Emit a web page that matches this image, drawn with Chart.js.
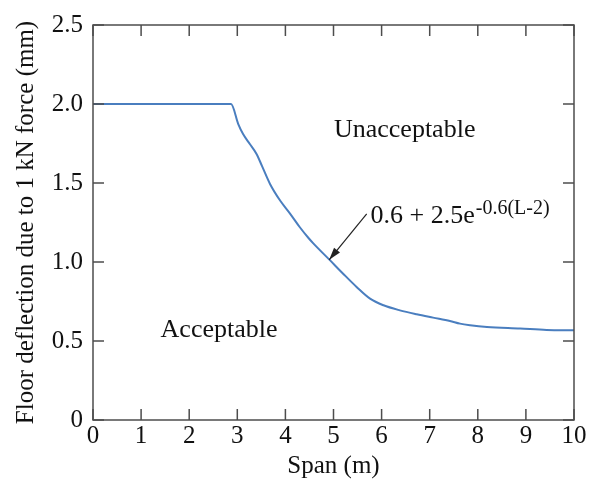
<!DOCTYPE html>
<html>
<head>
<meta charset="utf-8">
<script src="https://cdn.jsdelivr.net/npm/chart.js@4/dist/chart.umd.min.js"></script>
<style>
  html, body { margin: 0; padding: 0; background: #fff; }
  #wrap { width: 590px; height: 479px; }
</style>
</head>
<body>
<div id="wrap"><canvas id="chart" width="590" height="479"></canvas></div>
<script>
'use strict';
// values
let spanVals = [0, 2.87, 3.02, 3.12, 3.26, 3.40, 3.51, 3.68, 3.89, 4.10, 4.30, 4.48, 4.58, 4.93, 5.20, 5.48, 5.76, 6.04, 6.38, 6.73, 7.07, 7.42, 7.63, 7.84, 8.19, 8.88, 9.43, 10];
let deflVals = [2.0, 2.0, 1.873, 1.81, 1.747, 1.684, 1.61, 1.494, 1.389, 1.305, 1.22, 1.152, 1.118, 1.01, 0.926, 0.842, 0.768, 0.726, 0.694, 0.669, 0.648, 0.627, 0.61, 0.6, 0.589, 0.579, 0.57, 0.568];
let xTicks = [0, 1, 2, 3, 4, 5, 6, 7, 8, 9, 10];
let yTicks = [0, 0.5, 1.0, 1.5, 2.0, 2.5];

const serif = '"Liberation Serif", "Times New Roman", serif';
const frameColor = '#4d4d4d';

let points = [];
for (let i = 0; i < spanVals.length; i++) {
  points.push({ x: spanVals[i], y: deflVals[i] });
}

// inward ticks on all four sides + frame + text labels
const extras = {
  id: 'extras',
  afterDatasetsDraw(chart) {
    const ctx = chart.ctx;
    const xs = chart.scales.x;
    const ys = chart.scales.y;
    const a = chart.chartArea;
    const len = 11;
    ctx.save();
    ctx.strokeStyle = frameColor;
    ctx.lineWidth = 1.5;
    ctx.beginPath();
    for (let i = 0; i < xTicks.length; i++) {
      let px = xs.getPixelForValue(xTicks[i]);
      ctx.moveTo(px, a.bottom); ctx.lineTo(px, a.bottom - len);
      ctx.moveTo(px, a.top); ctx.lineTo(px, a.top + len);
    }
    for (let i = 0; i < yTicks.length; i++) {
      let py = ys.getPixelForValue(yTicks[i]);
      ctx.moveTo(a.left, py); ctx.lineTo(a.left + len, py);
      ctx.moveTo(a.right, py); ctx.lineTo(a.right - len, py);
    }
    ctx.stroke();
    ctx.strokeRect(a.left, a.top, a.right - a.left, a.bottom - a.top);

    // region labels
    ctx.fillStyle = '#111';
    ctx.font = '26px ' + serif;
    ctx.textBaseline = 'alphabetic';
    ctx.textAlign = 'center';
    ctx.fillText('Unacceptable', xs.getPixelForValue(6.48), ys.getPixelForValue(1.789));
    ctx.fillText('Acceptable', xs.getPixelForValue(2.62), ys.getPixelForValue(0.526));

    // formula
    ctx.textAlign = 'left';
    let fx = xs.getPixelForValue(5.77);
    let fy = ys.getPixelForValue(1.25);
    let base = '0.6 + 2.5e';
    ctx.fillText(base, fx, fy);
    let w = ctx.measureText(base).width;
    ctx.font = '20px ' + serif;
    ctx.fillText('-0.6(L-2)', fx + w + 1, fy - 9);

    // arrow
    let tx = xs.getPixelForValue(5.69), ty = ys.getPixelForValue(1.305);
    let hx = xs.getPixelForValue(4.91), hy = ys.getPixelForValue(1.014);
    ctx.strokeStyle = '#222';
    ctx.lineWidth = 1.2;
    ctx.beginPath();
    ctx.moveTo(tx, ty);
    ctx.lineTo(hx, hy);
    ctx.stroke();
    let ang = Math.atan2(hy - ty, hx - tx);
    let hl = 13, hw = 0.3;
    ctx.fillStyle = '#222';
    ctx.beginPath();
    ctx.moveTo(hx, hy);
    ctx.lineTo(hx - hl * Math.cos(ang - hw), hy - hl * Math.sin(ang - hw));
    ctx.lineTo(hx - hl * Math.cos(ang + hw), hy - hl * Math.sin(ang + hw));
    ctx.closePath();
    ctx.fill();
    ctx.restore();
  }
};

new Chart(document.getElementById('chart'), {
  type: 'line',
  data: {
    datasets: [{
      data: points,
      borderColor: '#4a7ebf',
      borderWidth: 2,
      pointRadius: 0,
      cubicInterpolationMode: 'monotone',
      fill: false
    }]
  },
  options: {
    responsive: false,
    animation: false,
    layout: { padding: { top: 24, right: 16, left: 0, bottom: 0 } },
    plugins: { legend: { display: false }, tooltip: { enabled: false } },
    scales: {
      x: {
        type: 'linear',
        min: 0,
        max: 10,
        afterFit(scale) { scale.height = 59; },
        afterBuildTicks(scale) { scale.ticks = xTicks.map(v => ({ value: v })); },
        grid: { display: false, drawTicks: false },
        border: { display: false },
        ticks: { color: '#111', font: { family: serif, size: 25 }, padding: 1, maxRotation: 0 },
        title: { display: true, text: 'Span (m)', color: '#111', font: { family: serif, size: 25, lineHeight: 1.0 }, padding: { top: 0, bottom: 0 } }
      },
      y: {
        type: 'linear',
        min: 0,
        max: 2.5,
        afterFit(scale) { scale.width = 93; },
        afterBuildTicks(scale) { scale.ticks = yTicks.map(v => ({ value: v })); },
        grid: { display: false, drawTicks: false },
        border: { display: false },
        ticks: {
          color: '#111',
          font: { family: serif, size: 25 },
          padding: 10,
          callback: v => (v === 0 ? '0' : v.toFixed(1))
        },
        title: { display: true, text: 'Floor deflection due to 1 kN force (mm)', color: '#111', font: { family: serif, size: 25 }, padding: { top: 11, bottom: 0 } }
      }
    }
  },
  plugins: [extras]
});
</script>
</body>
</html>
